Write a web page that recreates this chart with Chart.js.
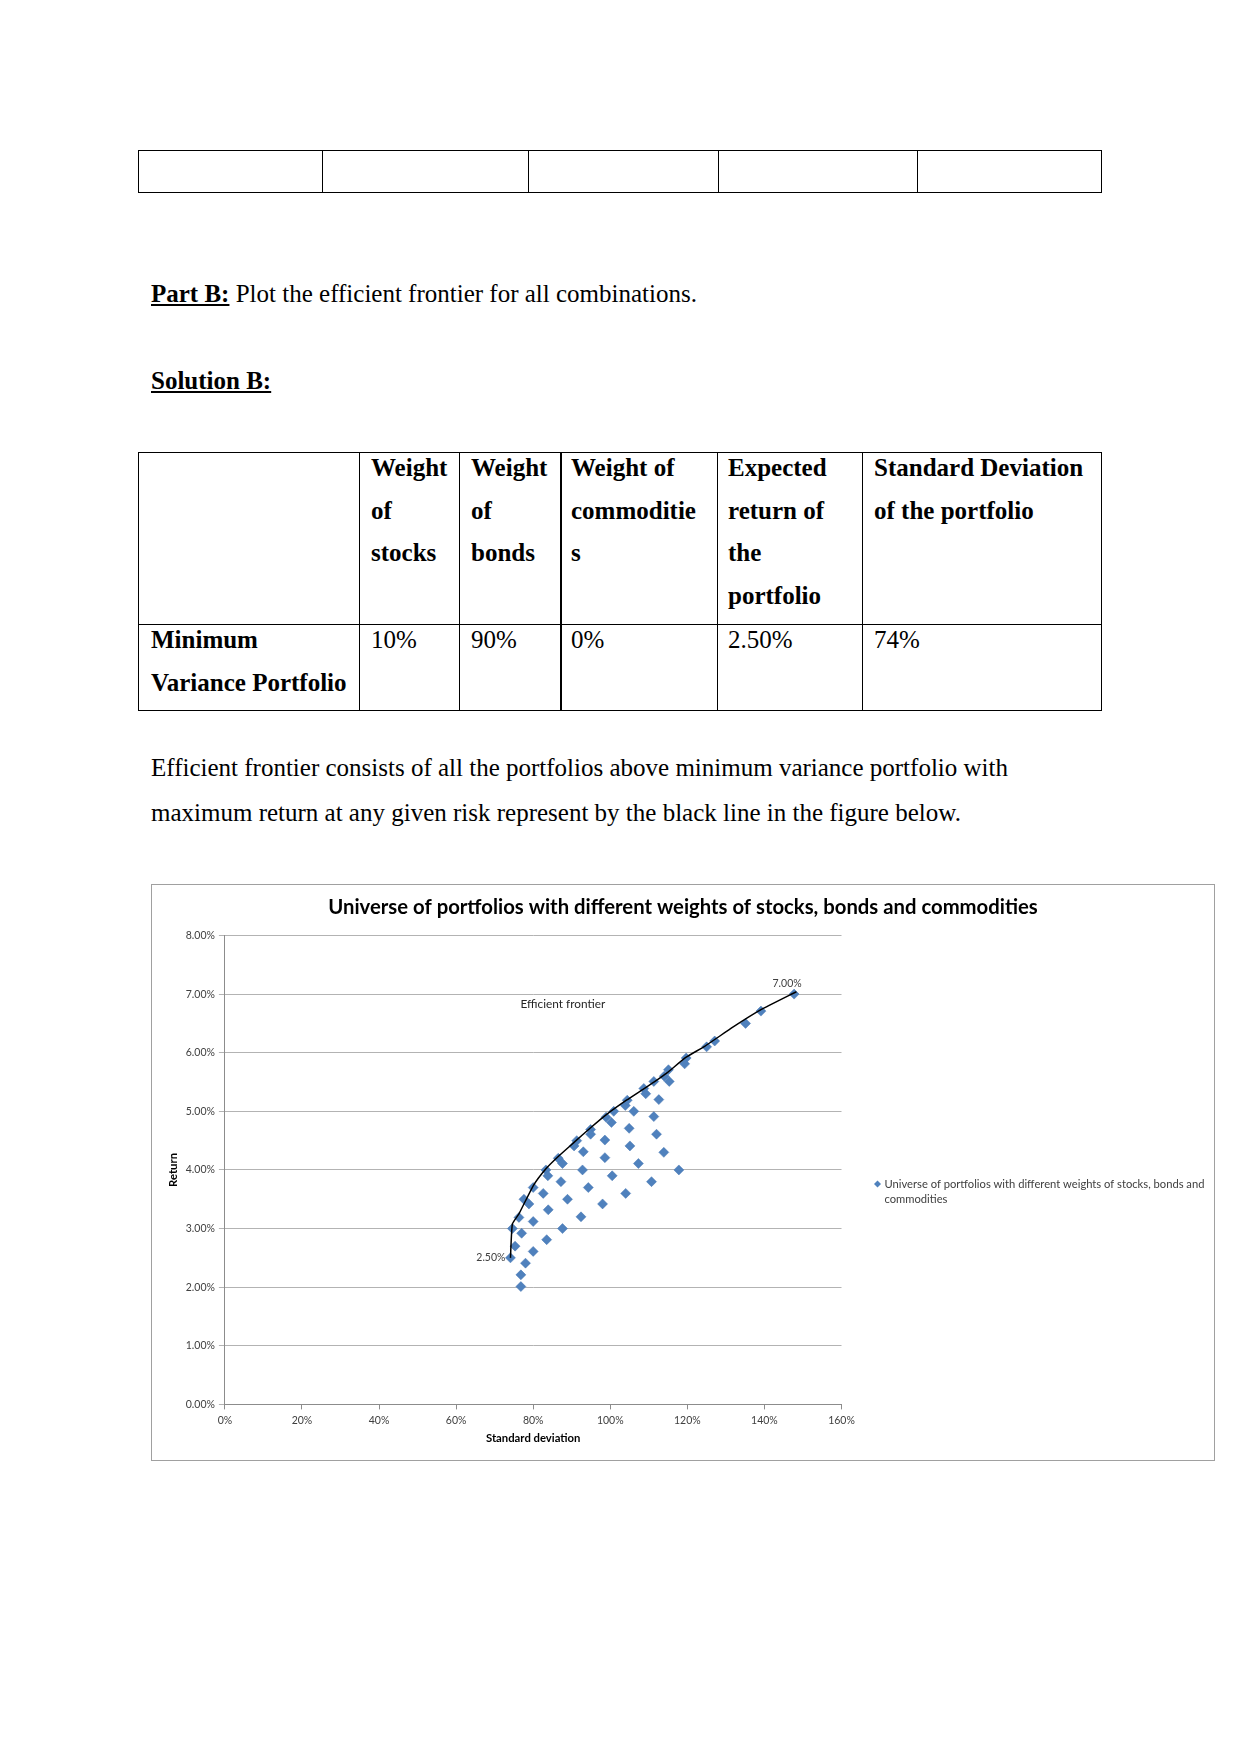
<!DOCTYPE html>
<html>
<head>
<meta charset="utf-8">
<script src="https://cdn.jsdelivr.net/npm/chart.js@4.4.0/dist/chart.umd.min.js"></script>
<style>
  body { margin: 0; background: #fff; }
  #page { position: relative; width: 1241px; height: 1754px; overflow: hidden;
          font-family: "Liberation Serif", "Times New Roman", serif; font-size: 25px; color: #000; }
  .t { position: absolute; white-space: nowrap; line-height: 30px; }
  .b { font-weight: bold; }
  .u { text-decoration: underline; }
  .rule { position: absolute; background: #000; }
  #box { position: absolute; left: 151px; top: 884px; width: 1062px; height: 575px; border: 1px solid #a0a0a0; }
</style>
</head>
<body>
<div id="page">
  <div class="t" style="left:151px;top:279px"><span class="b u">Part B:</span> Plot the efficient frontier for all combinations.</div>
  <div class="t b u" style="left:151px;top:366px">Solution B:</div>

  <div class="t b" style="left:371px;top:453px">Weight</div>
  <div class="t b" style="left:371px;top:496px">of</div>
  <div class="t b" style="left:371px;top:538px">stocks</div>
  <div class="t b" style="left:471px;top:453px">Weight</div>
  <div class="t b" style="left:471px;top:496px">of</div>
  <div class="t b" style="left:471px;top:538px">bonds</div>
  <div class="t b" style="left:571px;top:453px">Weight of</div>
  <div class="t b" style="left:571px;top:496px">commoditie</div>
  <div class="t b" style="left:571px;top:538px">s</div>
  <div class="t b" style="left:728px;top:453px">Expected</div>
  <div class="t b" style="left:728px;top:496px">return of</div>
  <div class="t b" style="left:728px;top:538px">the</div>
  <div class="t b" style="left:728px;top:581px">portfolio</div>
  <div class="t b" style="left:874px;top:453px">Standard Deviation</div>
  <div class="t b" style="left:874px;top:496px">of the portfolio</div>

  <div class="t b" style="left:151px;top:625px">Minimum</div>
  <div class="t b" style="left:151px;top:668px">Variance Portfolio</div>
  <div class="t" style="left:371px;top:625px">10%</div>
  <div class="t" style="left:471px;top:625px">90%</div>
  <div class="t" style="left:571px;top:625px">0%</div>
  <div class="t" style="left:728px;top:625px">2.50%</div>
  <div class="t" style="left:874px;top:625px">74%</div>

  <div class="t" style="left:151px;top:753px">Efficient frontier consists of all the portfolios above minimum variance portfolio with</div>
  <div class="t" style="left:151px;top:798px">maximum return at any given risk represent by the black line in the figure below.</div>

  <div id="box"><canvas id="myChart"></canvas></div>
</div>

<script>
  // table rules: [left, top, width, height]
  const rules = [
    [138, 150, 964, 1], [138, 192, 964, 1],
    [138, 150, 1, 43], [322, 150, 1, 43], [528, 150, 1, 43], [718, 150, 1, 43], [917, 150, 1, 43], [1101, 150, 1, 43],
    [138, 452, 964, 1], [138, 624, 964, 1], [138, 710, 964, 1],
    [138, 452, 1, 259], [359, 452, 1, 259], [459, 452, 1, 259], [560, 452, 2, 259],
    [717, 452, 1, 259], [862, 452, 1, 259], [1101, 452, 1, 259],
  ];
  const page = document.getElementById("page");
  rules.forEach(([l, t, w, h]) => {
    const d = document.createElement("div");
    d.className = "rule";
    d.style.cssText = `left:${l}px;top:${t}px;width:${w}px;height:${h}px`;
    page.appendChild(d);
  });

  // chart data (standard deviation %, return %)
  const portfolioRisk = [
    74.1, 75.3, 74.6, 76.3, 77.6, 78.9, 80.0, 83.3, 83.8, 86.5, 87.6, 90.6, 91.3, 94.9, 94.9, 98.9,
    100.3, 100.9, 103.9, 104.4, 106.1, 108.7, 109.2, 111.3, 112.6, 114.0, 115.1, 115.3, 119.7, 119.3,
    125.0, 127.1, 135.1, 139.1, 147.7,
    77.0, 80.0, 78.0, 76.8, 76.8, 80.0, 83.5, 83.9, 82.6, 87.2, 87.6, 88.9, 92.4, 92.8, 93.0, 94.3,
    98.0, 98.6, 98.6, 100.5, 104.0, 104.9, 105.1, 107.3, 110.7, 111.3, 112.0, 113.9, 117.8,
  ];
  const portfolioReturn = [
    2.50, 2.70, 3.00, 3.19, 3.50, 3.42, 3.70, 4.00, 3.90, 4.20, 4.11, 4.41, 4.50, 4.69, 4.61, 4.90,
    4.81, 5.00, 5.10, 5.19, 5.00, 5.39, 5.30, 5.51, 5.20, 5.60, 5.71, 5.51, 5.91, 5.81,
    6.10, 6.20, 6.50, 6.71, 7.00,
    2.92, 3.12, 2.41, 2.21, 2.01, 2.61, 2.81, 3.32, 3.60, 3.80, 3.00, 3.50, 3.20, 4.00, 4.31, 3.70,
    3.42, 4.51, 4.21, 3.90, 3.60, 4.71, 4.41, 4.11, 3.80, 4.91, 4.61, 4.30, 4.00,
  ];
  const frontierRisk = [74.1, 74.6, 76.3, 80.0, 83.3, 86.5, 90.6, 94.9, 98.9, 104.2, 108.6, 111.6, 114.8, 119.6, 124.5, 131.9, 139.0, 148.3];
  const frontierReturn = [2.50, 3.08, 3.25, 3.73, 4.02, 4.23, 4.47, 4.72, 4.94, 5.19, 5.38, 5.51, 5.66, 5.92, 6.11, 6.44, 6.73, 7.04];

  const chartTitle = "Universe of portfolios with different weights of stocks, bonds and commodities";
  const seriesName = ["Universe of portfolios with different weights of stocks, bonds and", "commodities"];
  const frontierLabel = "Efficient frontier";
  const frontierLabelAt = { x: 87.7, y: 6.83 };

  const extras = {
    id: "extras",
    afterDatasetsDraw(chart) {
      const { ctx, scales: { x, y } } = chart;
      ctx.save();
      ctx.textBaseline = "middle";
      ctx.fillStyle = "#404040";
      ctx.font = "10.5px Lato";
      // min variance and max return labels
      ctx.textAlign = "right";
      ctx.fillText(portfolioReturn[0].toFixed(2) + "%", x.getPixelForValue(portfolioRisk[0]) - 5, y.getPixelForValue(portfolioReturn[0]));
      ctx.textAlign = "center";
      ctx.fillText(portfolioReturn[34].toFixed(2) + "%", x.getPixelForValue(portfolioRisk[34]) - 7, y.getPixelForValue(portfolioReturn[34]) - 11);
      ctx.fillStyle = "#262626";
      ctx.font = "11.8px Lato";
      ctx.fillText(frontierLabel, x.getPixelForValue(frontierLabelAt.x), y.getPixelForValue(frontierLabelAt.y));
      ctx.restore();
    },
    afterDraw(chart) {
      const { ctx, chartArea } = chart;
      ctx.save();
      ctx.textBaseline = "middle";
      ctx.textAlign = "center";
      ctx.fillStyle = "#000";
      ctx.font = "bold 20.3px Lato";
      ctx.fillText(chartTitle, chart.width / 2, 22);
      // legend
      const lx = chartArea.right + 36, ly = 299;
      ctx.fillStyle = "#4F81BD";
      ctx.beginPath();
      ctx.moveTo(lx, ly - 3.5); ctx.lineTo(lx + 3.5, ly); ctx.lineTo(lx, ly + 3.5); ctx.lineTo(lx - 3.5, ly);
      ctx.closePath(); ctx.fill();
      ctx.fillStyle = "#404040";
      ctx.font = "11.2px Lato";
      ctx.textAlign = "left";
      seriesName.forEach((line, i) => ctx.fillText(line, lx + 7, ly + i * 15.6));
      ctx.restore();
    },
  };

  const ctx = document.getElementById("myChart").getContext("2d");
  new Chart(ctx, {
    type: "scatter",
    data: {
      datasets: [
        {
          label: frontierLabel,
          data: frontierRisk.map((v, i) => ({ x: v, y: frontierReturn[i] })),
          showLine: true,
          borderColor: "#000",
          borderWidth: 1.5,
          pointRadius: 0,
          tension: 0.15,
        },
        {
          label: seriesName.join(" "),
          data: portfolioRisk.map((v, i) => ({ x: v, y: portfolioReturn[i] })),
          pointStyle: "rectRot",
          pointRadius: 5,
          backgroundColor: "#4F81BD",
          borderColor: "#4677b2",
          borderWidth: 0.5,
        },
      ],
    },
    options: {
      responsive: true,
      maintainAspectRatio: false,
      animation: false,
      layout: { padding: { left: 0, right: 372.5, top: 50.5, bottom: 0 } },
      plugins: { legend: { display: false }, tooltip: { enabled: false } },
      scales: {
        x: {
          type: "linear", min: 0, max: 160,
          ticks: { stepSize: 20, callback: (v) => v + "%", color: "#404040", font: { family: "Lato", size: 10.5 }, padding: 5 },
          grid: { drawOnChartArea: false, tickLength: 5, color: "#8c8c8c" },
          border: { color: "#8c8c8c" },
          title: { display: true, text: "Standard deviation", color: "#000", font: { family: "Lato", size: 11.3, weight: "bold" }, padding: { top: 0, bottom: 14.5 } },
          afterFit(s) { s.height = 55.6; },
        },
        y: {
          min: 0, max: 8,
          ticks: { stepSize: 1, callback: (v) => v.toFixed(2) + "%", color: "#404040", font: { family: "Lato", size: 10.5 }, padding: 4 },
          grid: { color: "#b3b3b3", tickLength: 6 },
          border: { color: "#8c8c8c" },
          title: { display: true, text: "Return", color: "#000", font: { family: "Lato", size: 11.3, weight: "bold" }, padding: { top: 14.4, bottom: 0 } },
          afterFit(s) { s.width = 72.9; },
        },
      },
    },
    plugins: [extras],
  });
</script>
</body>
</html>
